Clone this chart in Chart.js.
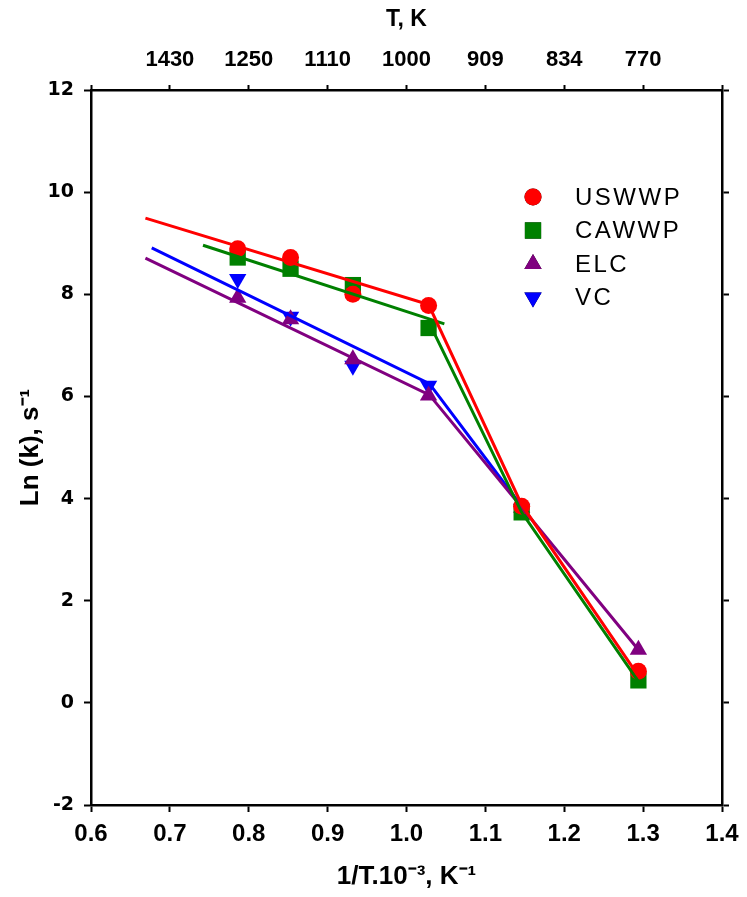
<!DOCTYPE html>
<html>
<head>
<meta charset="utf-8">
<script src="https://cdn.jsdelivr.net/npm/chart.js@4/dist/chart.umd.min.js"></script>
<style>
  html, body { margin: 0; background: #fff; }
  #wrap { width: 747px; height: 897px; }
</style>
</head>
<body>
<div id="wrap"><canvas id="c" width="747" height="897"></canvas></div>
<script>
/* ---------- data ---------- */
const invT   = [0.786, 0.853, 0.932, 1.028, 1.146, 1.294];
const uswwp  = [8.89, 8.72, 8.00, 7.78, 3.85, 0.62];
const cawwp  = [8.72, 8.50, 8.18, 7.34, 3.73, 0.44];
const elc    = [7.93, 7.51, 6.73, 6.02, 3.82, 1.04];
const vc     = [8.30, 7.56, 6.60, 6.21, 3.80];

// fitted lines (end points / break points)
const uswwpFitX = [0.669, 1.028, 1.146, 1.294];
const uswwpFitY = [9.49, 7.80, 3.88, 0.53];
const cawwpFitAX = [0.742, 1.048];
const cawwpFitAY = [8.96, 7.42];
const cawwpFitBX = [1.030, 1.146, 1.294];
const cawwpFitBY = [7.40, 3.73, 0.42];
const elcFitX = [0.669, 1.029, 1.146, 1.294];
const elcFitY = [8.71, 6.03, 3.83, 1.04];
const vcFitX  = [0.677, 1.029, 1.146];
const vcFitY  = [8.91, 6.25, 3.85];

// top axis: temperature labels at 1/T positions
const topTickPos    = [0.6, 0.7, 0.8, 0.9, 1.0, 1.1, 1.2, 1.3, 1.4];
const topTickLabels = ['', '1430', '1250', '1110', '1000', '909', '834', '770', ''];

const pts = (xs, ys) => ys.map((y, i) => ({ x: xs[i], y: y }));

/* ---------- legend drawn inside the plot ---------- */
const innerLegend = {
  id: 'innerLegend',
  afterDraw(chart) {
    const ctx = chart.ctx;
    const a = chart.chartArea;
    const sets = chart.data.datasets.filter(d => d.inLegend);
    ctx.save();
    sets.forEach((d, i) => {
      const y = a.top + 107 + i * 33.5;
      Chart.helpers.drawPoint(ctx, {
        pointStyle: d.pointStyle, radius: d.pointRadius, rotation: d.rotation || 0,
        borderWidth: 0
      }, a.left + 442, y);
      ctx.fillStyle = d.backgroundColor;
      ctx.fill();
      ctx.fillStyle = '#000';
      ctx.font = '24px "Liberation Sans"';
      ctx.letterSpacing = '2.5px';
      ctx.textBaseline = 'middle';
      ctx.fillText(d.label, a.left + 484, y + 1);
    });
    ctx.restore();
  }
};

const black = '#000';
const axisGrid = { drawOnChartArea: false, color: black, tickColor: black, tickLength: 7, tickWidth: 2 };
const axisBorder = { color: black, width: 2.5 };

new Chart(document.getElementById('c'), {
  type: 'scatter',
  data: {
    datasets: [
      { label: 'USWWP fit', data: pts(uswwpFitX, uswwpFitY), showLine: true, borderColor: '#ff0000', borderWidth: 3, pointRadius: 0, order: 1 },
      { label: 'CAWWP fit a', data: pts(cawwpFitAX, cawwpFitAY), showLine: true, borderColor: '#008000', borderWidth: 3, pointRadius: 0, order: 1 },
      { label: 'CAWWP fit b', data: pts(cawwpFitBX, cawwpFitBY), showLine: true, borderColor: '#008000', borderWidth: 3, pointRadius: 0, order: 1 },
      { label: 'ELC fit', data: pts(elcFitX, elcFitY), showLine: true, borderColor: '#800080', borderWidth: 3, pointRadius: 0, order: 1 },
      { label: 'VC fit', data: pts(vcFitX, vcFitY), showLine: true, borderColor: '#0000ff', borderWidth: 3, pointRadius: 0, order: 1 },

      { label: 'USWWP', inLegend: true, data: pts(invT, uswwp), pointStyle: 'circle', pointRadius: 8.5, backgroundColor: '#ff0000', borderWidth: 0, order: 2 },
      { label: 'CAWWP', inLegend: true, data: pts(invT, cawwp), pointStyle: 'rect', pointRadius: 11.5, backgroundColor: '#008000', borderWidth: 0, order: 3 },
      { label: 'ELC', inLegend: true, data: pts(invT, elc), pointStyle: 'triangle', pointRadius: 10, backgroundColor: '#800080', borderWidth: 0, order: 4 },
      { label: 'VC', inLegend: true, data: pts(invT, vc), pointStyle: 'triangle', rotation: 180, pointRotation: 180, pointRadius: 10, backgroundColor: '#0000ff', borderWidth: 0, order: 5 }
    ]
  },
  options: {
    responsive: false,
    animation: false,
    layout: { padding: 0 },
    plugins: { legend: { display: false }, tooltip: { enabled: false } },
    scales: {
      x: {
        type: 'linear', position: 'bottom', min: 0.6, max: 1.4,
        border: axisBorder, grid: axisGrid,
        ticks: { stepSize: 0.1, color: black, padding: 8,
          font: { family: '"Liberation Sans"', size: 24, weight: 'bold' },
          callback: v => v.toFixed(1) },
        title: { display: true, text: '1/T.10⁻³, K⁻¹', color: black, padding: { top: 0, bottom: 5 },
          font: { family: '"Liberation Sans"', size: 26, weight: 'bold' } },
        afterFit: s => { s.height = 92; }
      },
      xTop: {
        type: 'linear', position: 'top', min: 0.6, max: 1.4,
        border: axisBorder, grid: Object.assign({}, axisGrid, { tickLength: 5 }),
        afterBuildTicks: s => { s.ticks = topTickPos.map(v => ({ value: v })); },
        ticks: { color: black, padding: 12,
          font: { family: '"Liberation Sans"', size: 22, weight: 'bold' },
          callback: (v, i) => topTickLabels[i] },
        title: { display: true, text: 'T, K', color: black, padding: { top: 6, bottom: 0 },
          font: { family: '"Liberation Sans"', size: 23, weight: 'bold' } },
        afterFit: s => { s.height = 90; }
      },
      y: {
        type: 'linear', position: 'left', min: -2, max: 12,
        border: axisBorder, grid: axisGrid,
        ticks: { stepSize: 2, color: black, padding: 10,
          font: { family: '"DejaVu Sans"', size: 19, weight: 'bold' } },
        title: { display: true, text: 'Ln (k), s⁻¹', color: black, padding: { top: 15, bottom: 0 },
          font: { family: '"Liberation Sans"', size: 26, weight: 'bold' } },
        afterFit: s => { s.width = 91; }
      },
      yRight: {
        type: 'linear', position: 'right', min: -2, max: 12,
        border: axisBorder, grid: axisGrid,
        ticks: { stepSize: 2, display: false },
        afterFit: s => { s.width = 25; }
      }
    }
  },
  plugins: [innerLegend]
});
</script>
</body>
</html>
